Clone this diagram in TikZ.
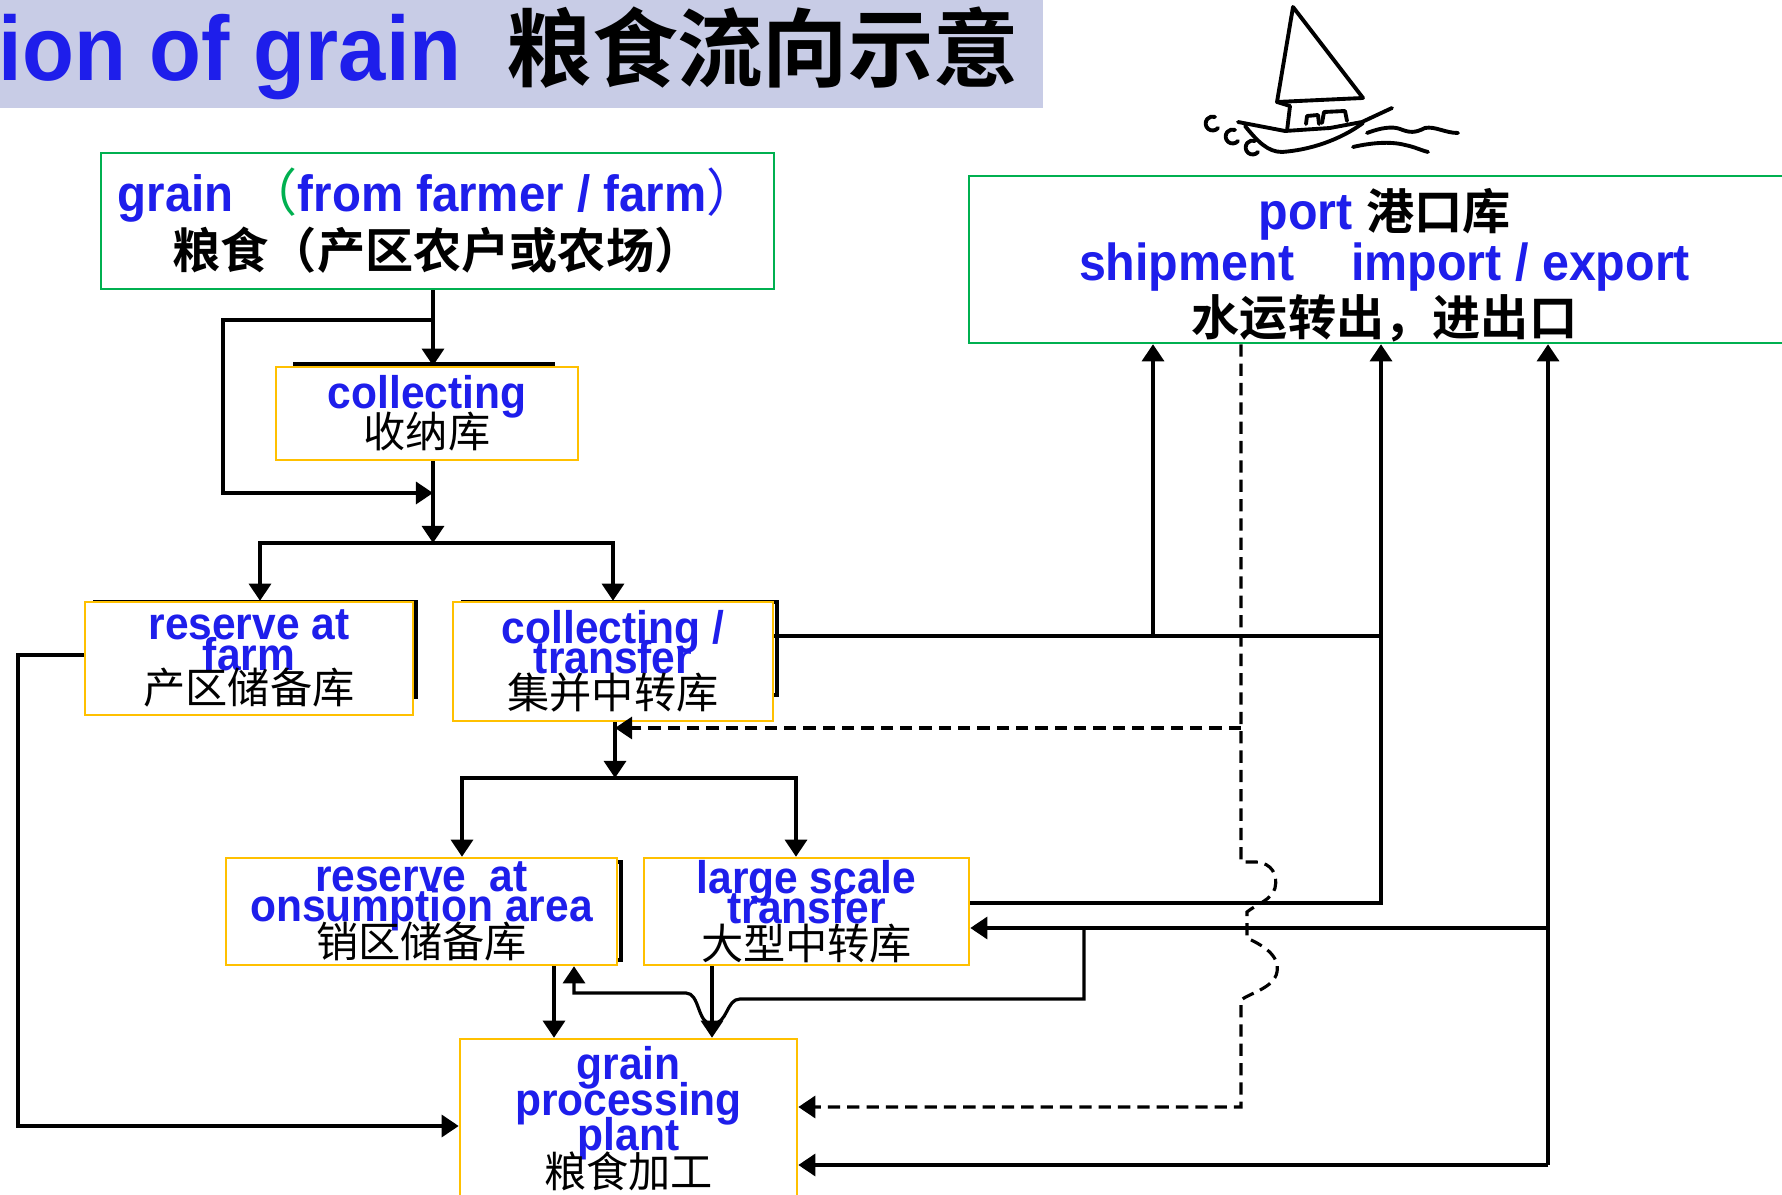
\documentclass[tikz,border=0pt]{standalone}
\usepackage{fontspec}
\setmainfont{Liberation Sans}
\newfontfamily\enfont{Liberation Sans}[UprightFont={* Bold}, FakeStretch=0.93]
\newfontfamily\zh{Noto Sans CJK SC}
\newfontfamily\zhb{Noto Sans CJK SC}[UprightFont={* Bold}]
\usetikzlibrary{arrows.meta}

\definecolor{txtblue}{RGB}{30,30,235}
\definecolor{boxgreen}{RGB}{0,176,80}
\definecolor{boxyellow}{RGB}{255,192,0}
\definecolor{banner}{RGB}{200,204,230}

\newcommand\tightlines{\lineskiplimit=-20pt\relax}
\newcommand\hanzi[1]{{\zh\fontsize{12}{8.6}\selectfont\color{black}#1}}
\newcommand\hanzibig[2][14]{{\zhb\fontsize{#1}{16}\selectfont\color{black}#2}}

\tikzset{
    ybox/.style={rectangle, draw=boxyellow, line width=0.7pt, fill=white, inner sep=0pt, align=center, text=txtblue, font=\enfont\fontsize{13}{8.6}\selectfont\tightlines},
    gbox/.style={rectangle, draw=boxgreen, line width=0.7pt, fill=white, inner sep=0pt, align=center, text=txtblue, font=\enfont\fontsize{14.5}{16.2}\selectfont\tightlines},
    flow/.style={-{Triangle[length=1.7mm,width=2.2mm]}, line width=0.9pt},
    link/.style={line width=0.9pt},
    dflow/.style={flow, dash pattern=on 3.5pt off 2pt},
    scan/.style={line width=1.1pt},
    boat/.style={line width=1.1pt, line cap=round, line join=round},
}

\begin{document}
\begin{tikzpicture}[x=0.01cm, y=-0.01cm]
    \useasboundingbox (0,0) rectangle (1782,1195);

    % title bar
    \fill[banner] (0,0) rectangle (1043,108);
    \node[anchor=base west, inner sep=0pt, text=txtblue, font=\enfont\fontsize{26}{28}\selectfont] (title) at (-2,81)
        {ion of grain\hspace{0.45cm}{\zhb\fontsize{24.3}{28}\selectfont\color{black}粮食流向示意}};

    % little sailing boat above the port
    \draw[boat] (1293,7) -- (1363,98) -- (1277,102) -- cycle;
    \draw[boat] (1277,102) -- (1290,106) -- (1287,131);
    \draw[boat] (1238,122) -- (1285,131) -- (1330,128) -- (1362,122) -- (1392,108);
    \draw[boat] (1245,126) .. controls (1258,142) and (1268,152) .. (1282,152) .. controls (1310,150) and (1340,140) .. (1363,123);
    \draw[boat] (1306,124) -- (1307,116) -- (1318,115) -- (1319,124);
    \draw[boat] (1322,123) -- (1324,112) -- (1345,111) -- (1347,121);
    \foreach \cx/\cy in {1212/133, 1232/146, 1252/157}
        \draw[boat] (\cx+6,\cy-5) arc[start angle=40, end angle=290, radius=7];
    \draw[boat] (1367,133) .. controls (1380,128) and (1392,126) .. (1400,129) .. controls (1410,133) and (1415,133) .. (1425,128) .. controls (1435,126) and (1445,133) .. (1458,133);
    \draw[boat] (1353,147) .. controls (1370,143) and (1390,141) .. (1405,145) .. controls (1415,147) and (1420,150) .. (1428,152);

    % old black frames peeking out behind the boxes
    \draw[scan] (293,364) -- (555,364);
    \draw[scan] (95,602) rectangle (416,697);
    \draw[scan] (463,602) rectangle (777,695);
    \draw[scan] (236,862) rectangle (621,960);

    % boxes
    \node[gbox, minimum width=6.73cm, minimum height=1.36cm] (grain) at (437.5,221)
        {grain \textcolor{boxgreen}{\zh （}from farmer / farm{\zh ）}\\ \hanzibig[13.7]{粮食（产区农户或农场）}};
    \node[gbox, font=\enfont\fontsize{14.8}{14.6}\selectfont\tightlines, minimum width=8.31cm, minimum height=1.67cm] (port) at (1384.5,259.5)
        {\rule{0pt}{14.9pt}port \hanzibig[13.7]{港口库}\\ shipment\hspace{0.57cm}import / export\\[1pt] \hanzibig[13.7]{水运转出，进出口}};
    \node[ybox, minimum width=3.02cm, minimum height=0.93cm] (coll) at (427,413.5) {collecting\\[2.4pt]\hanzi{收纳库}};
    \node[ybox, minimum width=3.28cm, minimum height=1.13cm] (rfarm) at (249,658.5) {reserve at\\farm\\[0.8pt]\hanzi{产区储备库}};
    \node[ybox, minimum width=3.20cm, minimum height=1.19cm] (ctrans) at (613,661.5) {collecting /\\transfer\\[1.4pt]\hanzi{集并中转库}};
    \node[ybox, minimum width=3.91cm, minimum height=1.07cm] (rcons) at (421.5,911.5) {reserve\ \ at\\onsumption area\\[1.7pt]\hanzi{销区储备库}};
    \node[ybox, minimum width=3.25cm, minimum height=1.07cm] (large) at (806.5,911.5) {large scale\\transfer\\[1.7pt]\hanzi{大型中转库}};
    \node[ybox, minimum width=3.37cm, minimum height=1.60cm] (proc) at (628.5,1119) {grain\\[1.4pt]processing\\[1.4pt]plant\\[2.1pt]\hanzi{粮食加工}};

    % junction points
    \coordinate (j1) at (433,320);
    \coordinate (j1l) at (223,493);
    \coordinate (bar1) at (433,543);
    \coordinate (bar1l) at (260,543);
    \coordinate (bar2) at (615,778);
    \coordinate (bar2l) at (462,778);
    \coordinate (bar2r) at (796,778);
    \coordinate (up1) at (1153,636);
    \coordinate (up2) at (1381,903);
    \coordinate (up3) at (1548,1165);
    \coordinate (in2) at (1548,928);
    \coordinate (lp) at (1084,928);
    \coordinate (lpl) at (574,993);
    \coordinate (dn1) at (554,0);
    \coordinate (dn2) at (712,0);
    \coordinate (lf) at (18,1126);
    \coordinate (dv) at (1241,728);

    % collecting
    \draw[flow] (grain.south -| j1) -- (coll.north -| j1);
    \draw[flow] (j1) -| (j1l) -- (j1l -| j1);
    \draw[flow] (coll.south -| bar1) -- (bar1);
    \draw[flow] (bar1) -| (bar1l |- rfarm.north);
    \draw[flow] (bar1) -| (ctrans.north);

    % transfer towards consumption
    \draw[flow] (ctrans.south -| bar2) -- (bar2);
    \draw[flow] (bar2) -| (bar2l |- rcons.north);
    \draw[flow] (bar2) -| (bar2r |- large.north);
    \draw[flow] (rcons.south -| dn1) -- (proc.north -| dn1);
    \draw[flow] (large.south -| dn2) -- (proc.north -| dn2);
    \draw[flow] (rfarm.west |- 0,655) -| (lf) -- (lf -| proc.west);

    % shipment out through the port
    \draw[link] (ctrans.east |- up1) -- (up1 -| up2);
    \draw[flow] (up1) -- (up1 |- port.south);
    \draw[flow] (large.east |- up2) -- (up2) -- (up2 |- port.south);
    \draw[flow] (up3) -- (up3 |- port.south);
    \draw[flow] (in2) -- (in2 -| large.east);
    \draw[flow] (up3) -- (up3 -| proc.east);
    \draw[flow] (lp) |- (740,999) .. controls (726,999) and (728,1024) .. (712,1024)
        .. controls (697,1024) and (700,993) .. (686,993) -- (lpl) -- (lpl |- rcons.south);

    % import through the port
    \draw[dflow] (dv) -- (dv -| bar2);
    \draw[dflow] (port.south -| dv) -- (1241,862) -- (1256,862)
        .. controls (1272,863) and (1278,875) .. (1275,888)
        .. controls (1272,900) and (1255,905) .. (1247,912) -- (1247,938)
        .. controls (1262,945) and (1280,955) .. (1277,972)
        .. controls (1274,988) and (1250,993) .. (1241,1000) -- (1241,1107) -- (proc.east |- 0,1107);
\end{tikzpicture}
\end{document}
